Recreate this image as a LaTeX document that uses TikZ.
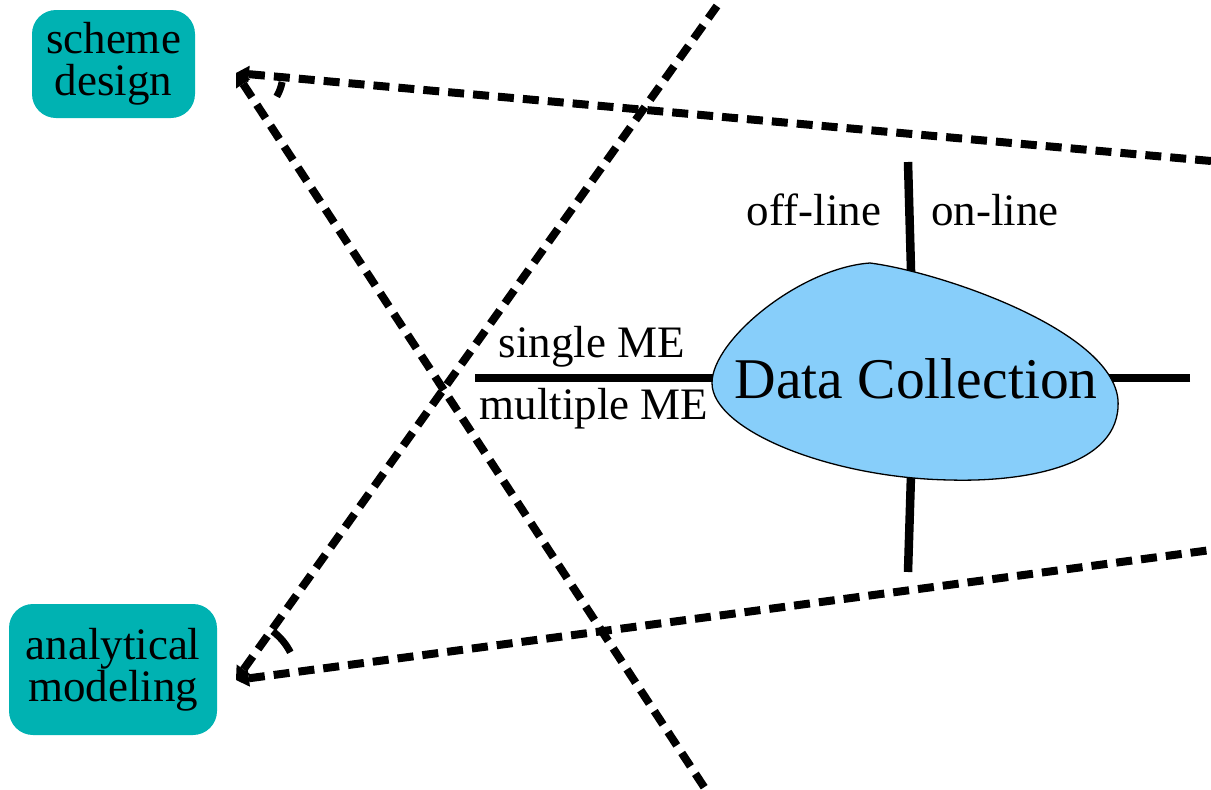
\documentclass[tikz,border=0pt]{standalone}
\usepackage{fontspec}
\setmainfont{Liberation Serif}
\usetikzlibrary{arrows.meta}
\definecolor{tealbox}{RGB}{0,178,178}
\definecolor{blobblue}{RGB}{135,206,250}

\begin{document}
\begin{tikzpicture}[x=1pt,y=-1pt,
  lbl/.style={font=\fontsize{45}{42}\selectfont, inner sep=0pt, anchor=base},
  boxlabel/.style={fill=tealbox, rounded corners=24pt, align=center,
    font=\fontsize{45}{42}\selectfont, inner sep=0pt},
  dashline/.style={line width=8pt, dash pattern=on 16pt off 9pt,
    {Triangle[length=13pt,width=17pt,line width=0pt]}-},
  axisline/.style={line width=8.5pt},
  anglemark/.style={line width=7pt},
]
\useasboundingbox (0,0) rectangle (1211,790);

% method boxes
\node[boxlabel, minimum width=163pt, minimum height=108pt] (scheme) at (113.5,64) {scheme\\design};
\node[boxlabel, minimum width=208pt, minimum height=131pt] (analytic) at (113,669.5) {analytical\\modeling};

% vertices of the two viewing cones and far ends of their rays
\coordinate (vtop) at (236,73);
\coordinate (vbot) at (236,680);
\coordinate (topR) at (1211,161);
\coordinate (topD) at (706,790);
\coordinate (botR) at (1211,550);
\coordinate (botU) at (717,6);

\draw[dashline] (vtop) -- (topR);
\draw[dashline] (vtop) -- (topD);
\draw[dashline] (vbot) -- (botR);
\draw[dashline] (vbot) -- (botU);

% angle marks
\draw[anglemark] (vtop) ++(-11:47pt) arc[start angle=-11, end angle=-30, radius=47pt];
\draw[anglemark] (vbot) ++(53:61pt) arc[start angle=53, end angle=27, radius=61pt];

% axes through the data-collection blob
\coordinate (axT) at (908,162);
\coordinate (axB) at (908,572);
\coordinate (axL) at (475,378);
\coordinate (axR) at (1190,378);
\coordinate (blobC) at (914,378);
\draw[axisline] (axT) -- (blobC);
\draw[axisline] (axB) -- (blobC);
\draw[axisline] (axL) -- (blobC);
\draw[axisline] (axR) -- (blobC);

% blob
\draw[fill=blobblue, line width=1.3pt]
  (712,383) .. controls (712,340) and (800,268) .. (870,263)
  .. controls (940,272) and (1112,330) .. (1118,400)
  .. controls (1122,468) and (1020,482) .. (950,480)
  .. controls (830,478) and (712,430) .. (712,383) -- cycle;
\node[font=\fontsize{57.6}{60}\selectfont, inner sep=0pt, anchor=base] (dc) at (916,398) {Data Collection};

% axis labels
\node[lbl] (off) at (814,225) {off-line};
\node[lbl] (on) at (995,225) {on-line};
\node[lbl] (single) at (592,357) {single ME};
\node[lbl] (multi) at (594,419) {multiple ME};
\end{tikzpicture}
\end{document}
